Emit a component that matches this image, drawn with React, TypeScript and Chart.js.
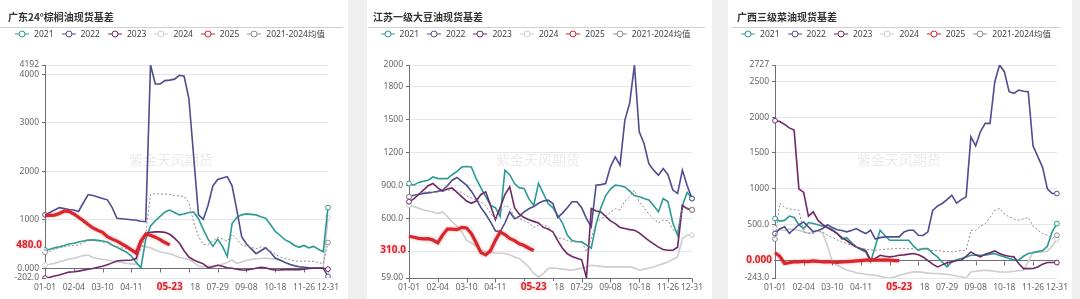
import React, { useEffect, useRef } from "react";
import { Chart, registerables } from "chart.js";

Chart.register(...registerables);
Chart.defaults.font.family = '"Noto Sans", "Noto Sans CJK SC", sans-serif';

// ---------- categories & ticks ----------
const dates = [
  "01-01", "01-07", "01-12", "01-17", "01-22", "01-29", "02-04", "02-10", "02-15", "02-20",
  "02-25", "03-04", "03-10", "03-15", "03-20", "03-25", "03-31", "04-05", "04-11", "04-16",
  "04-21", "04-27", "05-03", "05-09", "05-14", "05-19", "05-23", "05-28", "06-03", "06-10",
  "06-18", "06-24", "06-30", "07-07", "07-14", "07-21", "07-29", "08-04", "08-10", "08-16",
  "08-23", "08-30", "09-08", "09-14", "09-20", "09-26", "10-05", "10-11", "10-18", "10-24",
  "10-30", "11-05", "11-12", "11-19", "11-26", "12-03", "12-09", "12-16", "12-23", "12-31",
];
const tickIdx = [0, 6, 12, 18, 24, 30, 36, 42, 48, 54, 59];
const seriesNames = ["2021", "2022", "2023", "2024", "2025", "2021-2024均值"];
const seriesColors = ["#2a9a94", "#4e4c8e", "#6e2866", "#cdcdcd", "#d9262e", "#8c8c8c"];

// ---------- panel 1: 广东24°棕榈油 ----------
const p1Ticks = [-202, 0, 1000, 2000, 3000, 4000, 4192];
const p1_2021 = [375, 390, 420, 444, 470, 500, 515, 540, 560, 580, 585, 575, 560, 540, 480, 430, 380, 330, 250, 120, 10, 600, 870, 980, 1070, 1160, 1200, 1150, 1100, 1120, 1150, 1160, 1020, 800, 600, 450, 600, 450, 240, 920, 1050, 1100, 1120, 1110, 1100, 1060, 1030, 900, 760, 680, 590, 540, 470, 430, 470, 420, 450, 390, 340, 1250];
const p1_2022 = [1100, 1150, 1200, 1250, 1230, 1210, 1200, 1170, 1350, 1520, 1500, 1470, 1440, 1410, 1250, 1030, 1020, 1010, 1000, 990, 970, 960, 4192, 3800, 3800, 3870, 3880, 3900, 3980, 3960, 3500, 2300, 1100, 1010, 1300, 1700, 1830, 1860, 1890, 1700, 1200, 650, 500, 400, 300, 360, 420, 330, 210, 170, 120, 80, 50, 30, 20, 10, 5, 0, 0, -170];
const p1_2023 = [-202, -185, -160, -140, -110, -80, -72, -60, -40, -20, -5, 18, 40, 70, 110, 150, 160, 165, 170, 200, 520, 720, 740, 750, 750, 740, 700, 620, 520, 360, 230, 170, 130, 90, 10, 30, 60, 40, 10, 0, -20, -37, -35, -20, 0, 18, 10, -20, -37, -35, -30, -25, -30, -30, -20, -5, 0, 5, 0, -20];
const p1_2024 = [66, 80, 100, 134, 160, 190, 204, 230, 260, 272, 220, 200, 180, 169, 150, 134, 120, 100, 90, 80, 478, 444, 420, 375, 340, 313, 300, 260, 220, 204, 180, 120, 40, 30, 40, 50, 60, 80, 120, 169, 100, 130, 160, 183, 195, 200, 204, 200, 190, 170, 120, 80, 50, 30, 20, 10, 5, 0, 0, 1050];
const p1_2025 = [1090, 1090, 1095, 1130, 1180, 1170, 1120, 1050, 980, 900, 830, 780, 740, 650, 600, 560, 500, 444, 380, 310, 560, 700, 680, 640, 590, 530, 480];
const p1_avg = [330, 350, 390, 420, 440, 460, 470, 480, 520, 590, 570, 560, 540, 540, 460, 440, 420, 400, 380, 340, 380, 700, 1520, 1540, 1530, 1530, 1520, 1500, 1490, 1480, 1350, 950, 650, 490, 490, 560, 640, 600, 560, 700, 600, 480, 450, 430, 400, 440, 420, 350, 290, 230, 200, 180, 150, 140, 150, 140, 140, 120, 90, 530];

// ---------- panel 2: 江苏一级大豆油 ----------
const p2Ticks = [59, 300, 600, 900, 1200, 1500, 1800, 2000];
const p2_2021 = [920, 905, 930, 940, 950, 980, 965, 965, 965, 1000, 1030, 1070, 1075, 1070, 965, 880, 800, 720, 700, 620, 1042, 1000, 920, 880, 874, 780, 720, 920, 830, 737, 700, 630, 560, 450, 400, 390, 388, 360, 330, 550, 700, 810, 870, 905, 900, 889, 850, 810, 800, 783, 770, 720, 661, 783, 753, 560, 449, 720, 840, 783];
const p2_2022 = [800, 813, 820, 830, 835, 840, 850, 859, 900, 950, 975, 940, 905, 850, 780, 700, 640, 570, 490, 480, 560, 661, 600, 620, 661, 690, 710, 740, 760, 768, 737, 610, 650, 700, 754, 754, 700, 600, 525, 905, 910, 920, 1072, 1163, 1087, 1498, 1651, 2000, 1392, 1285, 1100, 1042, 996, 1057, 1000, 860, 829, 1042, 900, 783];
const p2_2023 = [754, 780, 820, 860, 900, 920, 880, 850, 870, 880, 840, 800, 760, 740, 760, 820, 844, 720, 590, 700, 820, 889, 700, 640, 610, 590, 575, 560, 520, 505, 480, 400, 330, 280, 255, 240, 225, 59, 692, 670, 661, 620, 580, 555, 520, 510, 500, 494, 470, 433, 400, 370, 340, 318, 312, 312, 340, 720, 690, 680];
const p2_2024 = [722, 710, 695, 680, 670, 660, 647, 661, 620, 571, 530, 480, 403, 380, 350, 312, 300, 290, 287, 285, 282, 270, 250, 236, 200, 160, 100, 68, 99, 145, 150, 145, 140, 135, 130, 140, 150, 160, 175, 170, 165, 160, 160, 160, 160, 160, 160, 150, 130, 140, 150, 160, 175, 190, 205, 230, 251, 420, 449, 449];
const p2_2025 = [440, 430, 420, 415, 418, 405, 380, 450, 505, 505, 500, 520, 515, 464, 380, 290, 270, 310, 400, 479, 455, 420, 400, 370, 355, 330, 310];
const p2_avg = [800, 810, 830, 840, 845, 840, 840, 850, 860, 860, 850, 840, 810, 790, 770, 750, 720, 650, 600, 660, 720, 700, 610, 600, 580, 560, 520, 540, 540, 530, 480, 420, 420, 400, 385, 390, 390, 300, 420, 560, 600, 620, 660, 690, 680, 760, 800, 860, 750, 700, 640, 600, 560, 590, 580, 500, 470, 700, 700, 680];

// ---------- panel 3: 广西三级菜油 ----------
const p3Ticks = [-243, 0, 500, 1000, 1500, 2000, 2500, 2727];
const p3_2021 = [586, 550, 560, 620, 600, 500, 446, 530, 516, 500, 480, 460, 430, 380, 300, 320, 250, 190, 150, 121, -18, 200, 423, 350, 283, 283, 283, 283, 283, 200, 144, 167, 167, 100, 52, -20, -88, -18, 10, 28, 50, 74, 74, 74, 74, 90, 98, 70, 52, 30, 10, 5, 60, 98, 110, 125, 140, 200, 400, 516];
const p3_2022 = [377, 440, 470, 380, 440, 500, 539, 470, 400, 420, 446, 500, 460, 430, 420, 400, 420, 446, 410, 377, 423, 300, 320, 330, 330, 330, 330, 400, 423, 423, 353, 350, 400, 700, 760, 796, 850, 912, 800, 850, 889, 1726, 1600, 1800, 1913, 1913, 2494, 2727, 2634, 2354, 2332, 2378, 2360, 2354, 1600, 1450, 1300, 1000, 935, 935];
const p3_2023 = [1950, 1940, 1900, 1850, 1820, 1000, 950, 620, 680, 560, 500, 460, 420, 377, 320, 280, 230, 190, 165, 140, 10, 30, 74, 60, 52, 60, 74, 80, 90, 98, 80, 50, 0, -50, -88, -60, -30, -18, 0, 5, 60, 121, 80, 52, 90, 110, 135, 100, 74, 60, 52, -40, -112, -112, -110, -90, -50, -27, -27, -27];
const p3_2024 = [450, 430, 420, 440, 430, 420, 400, 380, 400, 420, 380, 200, -18, -65, -100, -135, -150, -170, -181, -190, -200, -205, -220, -235, -243, -230, -205, -190, -170, -158, -158, -165, -175, -181, -181, -185, -190, -200, -215, -228, -243, -158, -150, -140, -135, -140, -150, -158, -160, -158, -150, -140, -135, -18, 121, 121, 121, 130, 200, 300];
const p3_2025 = [110, 60, -40, -30, -15, -20, -10, -15, -5, -10, -20, -15, -20, -25, -20, -15, -10, -5, 0, 5, 10, 5, 5, 10, 5, 0, 0];
const p3_avg = [300, 800, 740, 720, 710, 702, 400, 380, 377, 420, 400, 353, 320, 290, 260, 240, 210, 190, 175, 160, 150, 144, 150, 160, 160, 165, 170, 170, 165, 165, 167, 160, 150, 140, 140, 130, 125, 121, 130, 140, 144, 423, 420, 480, 516, 600, 700, 726, 650, 609, 580, 563, 580, 600, 480, 423, 380, 353, 307, 353];

const panels = [
  { title: "广东24°棕榈油现货基差", left: 0, width: 348, titleX: 8, lineL: 0, lineR: 5, yWidth: 45, padR: 20, min: -202, max: 4192, ticks: p1Ticks, series: [p1_2021, p1_2022, p1_2023, p1_2024, p1_2025, p1_avg] },
  { title: "江苏一级大豆油现货基差", left: 367, width: 345, titleX: 6, lineL: 1, lineR: 7, yWidth: 42, padR: 20, min: 59, max: 2000, ticks: p2Ticks, series: [p2_2021, p2_2022, p2_2023, p2_2024, p2_2025, p2_avg] },
  { title: "广西三级菜油现货基差", left: 728, width: 344, titleX: 9, lineL: 4, lineR: 12, yWidth: 47, padR: 14, min: -243, max: 2727, ticks: p3Ticks, series: [p3_2021, p3_2022, p3_2023, p3_2024, p3_2025, p3_avg] },
];

const AXIS = "#6E7079";
const GRID = "#E3E6EE";
const RED = "#d9262e";
const H = 299;

function Panel({ cfg }: { cfg: any }) {
  const ref = useRef<HTMLCanvasElement | null>(null);

  useEffect(() => {
    const canvas = ref.current!;
    const lastIdx = dates.length - 1;
    const endPts = (c: any) => (c.dataIndex === 0 || c.dataIndex === lastIdx ? 2.4 : 0);
    const orders = [3, 2, 1, 4, -1, 0];

    const datasets = cfg.series.map((d: number[], i: number) => ({
      label: seriesNames[i],
      data: d,
      borderColor: seriesColors[i],
      backgroundColor: seriesColors[i],
      borderWidth: i === 4 ? 3.2 : i === 5 ? 1 : 1.6,
      borderDash: i === 5 ? [2, 2] : [],
      pointRadius: i === 4 ? 0 : endPts,
      pointBackgroundColor: "#fff",
      pointBorderColor: seriesColors[i],
      pointBorderWidth: 1,
      tension: 0,
      order: orders[i],
      fill: false,
    }));

    const deco = {
      id: "deco",
      beforeDatasetsDraw(chart: any) {
        const { ctx, chartArea: a, scales } = chart;
        const x = scales.x, y = scales.y;
        ctx.save();
        ctx.font = '14px "Noto Sans CJK SC", sans-serif';
        ctx.fillStyle = "rgba(150,150,150,0.2)";
        ctx.textAlign = "center";
        ctx.textBaseline = "middle";
        ctx.fillText("紫金天风期货", 171, 160);
        const axisY = cfg.min < 0 ? Math.round(y.getPixelForValue(0)) + 0.5 : Math.round(a.bottom) + 0.5;
        ctx.strokeStyle = AXIS;
        ctx.lineWidth = 1;
        tickIdx.forEach((i) => {
          const px = Math.round(x.getPixelForValue(i)) + 0.5;
          ctx.beginPath();
          ctx.moveTo(px, axisY);
          ctx.lineTo(px, axisY + 4);
          ctx.stroke();
        });
        ctx.restore();
      },
      beforeDatasetDraw(chart: any, args: any) {
        if (args.index === 4) {
          chart.ctx.save();
          chart.ctx.shadowColor = "rgba(230,60,60,0.45)";
          chart.ctx.shadowBlur = 3;
        }
      },
      afterDatasetDraw(chart: any, args: any) {
        if (args.index === 4) chart.ctx.restore();
      },
      afterDraw(chart: any) {
        const { ctx, chartArea: a, scales } = chart;
        const x = scales.x, y = scales.y;
        const s25 = cfg.series[4];
        const li = s25.length - 1;
        const last = s25[li];
        ctx.save();
        // y red label
        ctx.font = 'bold 10px "Noto Sans", sans-serif';
        const txt = Number(last).toPrecision(4);
        const w = ctx.measureText(txt).width;
        const yPx = y.getPixelForValue(last);
        const rEdge = a.left - 3;
        ctx.fillStyle = "#fff";
        ctx.fillRect(rEdge - w - 4, yPx - 7, w + 6, 14);
        ctx.shadowColor = "rgba(217,38,46,0.35)";
        ctx.shadowBlur = 3;
        ctx.fillStyle = RED;
        ctx.textAlign = "right";
        ctx.textBaseline = "middle";
        ctx.fillText(txt, rEdge, yPx);
        // x red label
        ctx.shadowBlur = 0;
        const xt = dates[li];
        const w2 = ctx.measureText(xt).width;
        const xPx = x.getPixelForValue(li);
        ctx.fillStyle = "#fff";
        ctx.fillRect(xPx - w2 / 2 - 8, a.bottom + 3, w2 + 16, 15);
        ctx.shadowColor = "rgba(217,38,46,0.35)";
        ctx.shadowBlur = 3;
        ctx.fillStyle = RED;
        ctx.textAlign = "center";
        ctx.fillText(xt, xPx, a.bottom + 9.5);
        ctx.restore();
      },
    };

    const chart = new Chart(canvas, {
      type: "line",
      data: { labels: dates, datasets },
      options: {
        responsive: false,
        animation: false,
        layout: { padding: { top: 65, right: cfg.padR, bottom: 0, left: 0 } },
        plugins: { legend: { display: false }, tooltip: { enabled: false }, title: { display: false } },
        scales: {
          x: {
            type: "category",
            offset: false,
            grid: { display: false, drawTicks: false },
            border: { display: false },
            ticks: {
              autoSkip: false,
              maxRotation: 0,
              minRotation: 0,
              padding: 4,
              color: "#666",
              font: { size: 8.5 },
              callback: (_v: any, i: number) => (tickIdx.includes(i) ? dates[i] : null),
            },
            afterFit: (s: any) => {
              s.height = 21;
            },
          },
          y: {
            type: "linear",
            min: cfg.min,
            max: cfg.max,
            afterBuildTicks: (s: any) => {
              s.ticks = cfg.ticks.map((v: number) => ({ value: v }));
            },
            ticks: {
              autoSkip: false,
              padding: 3,
              color: "#666",
              font: { size: 8.5 },
              callback: (v: any) => Number(v).toPrecision(4),
            },
            grid: {
              color: (c: any) => {
                const v = c.tick ? c.tick.value : null;
                if (v === 0) return AXIS;
                if (v === cfg.min && cfg.min > 0) return AXIS;
                return GRID;
              },
              tickColor: AXIS,
              tickLength: 3,
              drawTicks: true,
              lineWidth: 1,
            },
            border: { display: true, color: AXIS, width: 1 },
            afterFit: (s: any) => {
              s.width = cfg.yWidth;
            },
          },
        },
      },
      plugins: [deco],
    } as any);

    return () => chart.destroy();
  }, []);

  return (
    <div style={{ position: "absolute", left: cfg.left, top: 0, width: cfg.width, height: H, background: "#fff", overflow: "hidden" }}>
      <canvas ref={ref} width={cfg.width} height={H} style={{ position: "absolute", left: 0, top: 0, width: cfg.width, height: H }} />
      <div
        style={{
          position: "absolute",
          left: cfg.titleX,
          top: 11,
          fontSize: 10,
          lineHeight: "12px",
          fontWeight: 700,
          color: "#333",
          fontFamily: '"Noto Sans CJK SC", sans-serif',
          whiteSpace: "nowrap",
        }}
      >
        {cfg.title}
      </div>
      <div style={{ position: "absolute", left: cfg.lineL, right: cfg.lineR, top: 27, height: 1, background: "#cfcfcf" }} />
      <div
        style={{
          position: "absolute",
          left: 0,
          width: cfg.width - 8,
          top: 28,
          height: 12,
          display: "flex",
          justifyContent: "center",
          alignItems: "center",
          fontSize: 8.5,
          lineHeight: "12px",
          color: "#444",
          fontFamily: '"Noto Sans", "Noto Sans CJK SC", sans-serif',
          whiteSpace: "nowrap",
        }}
      >
        {seriesNames.map((n, i) => (
          <span key={n} style={{ display: "inline-flex", alignItems: "center", marginLeft: i ? 8 : 0 }}>
            <svg width={14} height={8} style={{ display: "block" }}>
              <line x1={0} y1={4} x2={14} y2={4} stroke={seriesColors[i]} strokeWidth={1} />
              <circle cx={7} cy={4} r={3} fill="#fff" stroke={seriesColors[i]} strokeWidth={1} />
            </svg>
            <span style={{ marginLeft: 5 }}>{n}</span>
          </span>
        ))}
      </div>
    </div>
  );
}

export default function App() {
  return (
    <div style={{ position: "fixed", left: 0, top: 0, width: 1080, height: H, background: "#efefef", overflow: "hidden" }}>
      {panels.map((p) => (
        <Panel key={p.title} cfg={p} />
      ))}
    </div>
  );
}
